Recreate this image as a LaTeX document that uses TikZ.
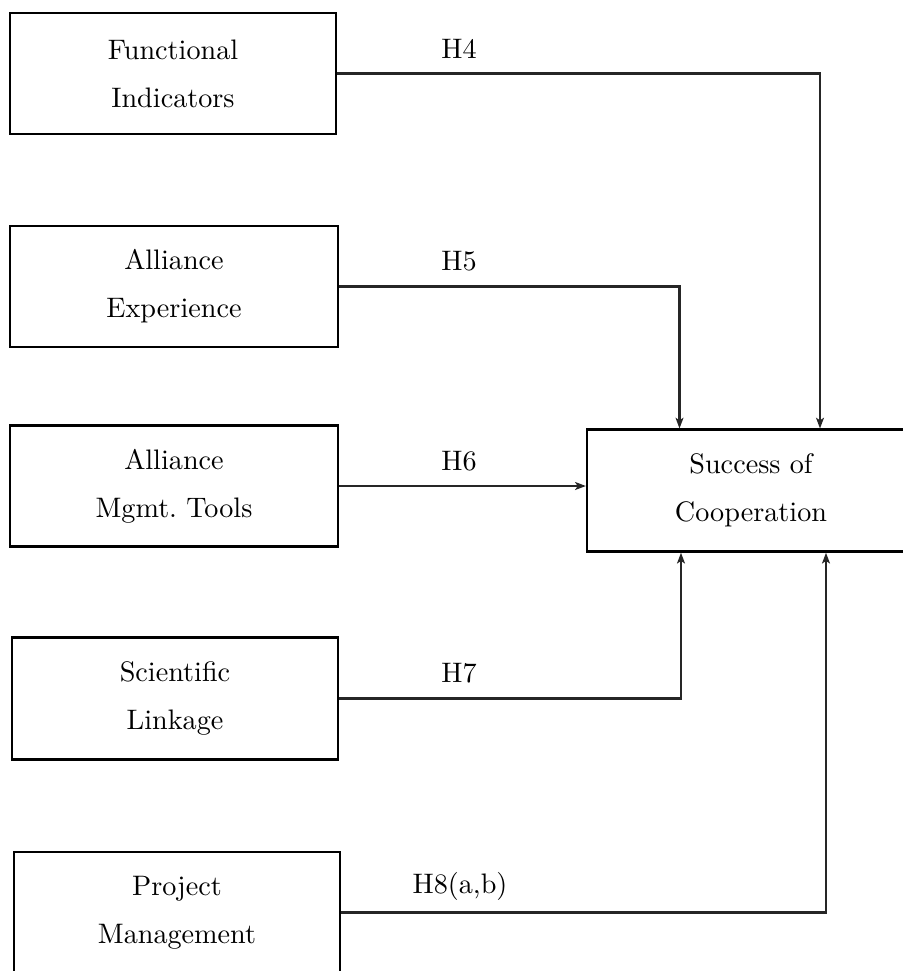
\documentclass[tikz,border=0pt]{standalone}
\usetikzlibrary{arrows.meta,calc}
\begin{document}
\begin{tikzpicture}[x=0.012466cm,y=-0.012466cm,
  box/.style={draw,line width=0.8pt,rectangle,inner sep=0pt,
    minimum width=326*0.012466cm,minimum height=121*0.012466cm,
    align=center,font=\fontsize{10}{17}\selectfont},
  lbl/.style={anchor=base,inner sep=0pt,font=\fontsize{10}{12}\selectfont},
  conn/.style={line width=0.8pt,draw=black!85},
  arr/.style={conn,-{Stealth[length=3.8pt,width=2.8pt,inset=0.9pt]}}]
\useasboundingbox (0,0) rectangle (903,971);
\node[box] (b1) at (173,73.5) {Functional\\Indicators};
\node[box,minimum width=328*0.012466cm] (b2) at (174,286.5) {Alliance\\Experience};
\node[box,minimum width=328*0.012466cm] (b3) at (174,486) {Alliance\\Mgmt.\ Tools};
\node[box,minimum height=122*0.012466cm] (b4) at (175,698.5) {Scientific\\Linkage};
\node[box] (b5) at (177,912.5) {Project\\Management};
\node[box,minimum width=328*0.012466cm,minimum height=122*0.012466cm] (sc) at (751,490.6) {Success of\\Cooperation};
\coordinate (t4) at ($(sc.north)+(69,0)$);
\coordinate (t5) at ($(sc.north)+(-71.5,0)$);
\coordinate (t7) at ($(sc.south)+(-70,0)$);
\coordinate (t8) at ($(sc.south)+(75,0)$);
\draw[arr] (b1.east) -| (t4);
\draw[arr] (b2.east) -| (t5);
\draw[arr] (b3.east) -- (b3.east -| sc.west);
\draw[arr] (b4.east) -| (t7);
\draw[arr] (b5.east) -| (t8);
\node[lbl] (l4) at (459,58) {H4};
\node[lbl] (l5) at (459,270) {H5};
\node[lbl] (l6) at (459,470) {H6};
\node[lbl] (l7) at (459,682) {H7};
\node[lbl] (l8) at (460,893) {H8(a,b)};
\end{tikzpicture}
\end{document}
